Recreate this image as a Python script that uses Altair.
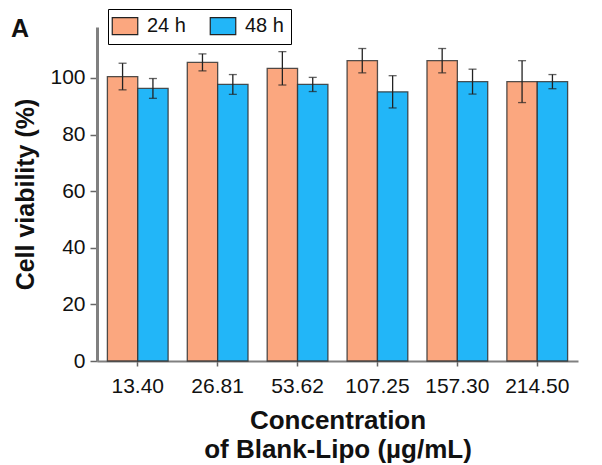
import altair as alt
import pandas as pd

concentrations = ["13.40", "26.81", "53.62", "107.25", "157.30", "214.50"]
times = ["24 h", "48 h"]
viab_24 = [100.5, 105.5, 103.4, 106.1, 106.1, 98.7]
err_24 = [4.7, 3.0, 5.9, 4.3, 4.3, 7.4]
viab_48 = [96.3, 97.7, 97.7, 95.1, 98.7, 98.7]
err_48 = [3.5, 3.5, 2.5, 5.7, 4.4, 2.5]

rows = []
for i, c in enumerate(concentrations):
    rows.append({"conc": c, "time": "24 h", "v": viab_24[i], "lo": viab_24[i] - err_24[i], "hi": viab_24[i] + err_24[i]})
    rows.append({"conc": c, "time": "48 h", "v": viab_48[i], "lo": viab_48[i] - err_48[i], "hi": viab_48[i] + err_48[i]})
df = pd.DataFrame(rows)

FONT = "Liberation Sans"
colors = ["#FBA77F", "#22B6F8"]

x = alt.X("conc:N", sort=concentrations,
          scale=alt.Scale(paddingInner=0.24, paddingOuter=0.13),
          axis=alt.Axis(title=["Concentration", "of Blank-Lipo (µg/mL)"], labelAngle=0,
                        labelFontSize=21, labelFont=FONT, labelColor="#111",
                        titleFontSize=26, titleFont=FONT, titleFontWeight="bold", titleColor="#111",
                        titlePadding=11, titleLineHeight=29, labelPadding=9,
                        domainColor="#808080", domainWidth=2, tickColor="#666", tickWidth=1.5,
                        tickSize=5, grid=False))
xo = alt.XOffset("time:N", sort=times)
y = alt.Y("v:Q", scale=alt.Scale(domain=[0, 118], nice=False),
          axis=alt.Axis(title="Cell viability (%)", values=list(range(0, 120, 10)),
                        labelExpr="datum.value % 20 === 0 ? datum.label : ''",
                        labelFontSize=21, labelFont=FONT, labelColor="#111", labelPadding=5,
                        titleFontSize=25, titleFont=FONT, titleFontWeight="bold", titleColor="#111",
                        titlePadding=11,
                        domainColor="#808080", domainWidth=3, tickColor="#666", tickWidth=1.5,
                        tickSize=7, grid=False))

bars = alt.Chart(df).mark_bar(stroke="#333", strokeWidth=1.3, strokeOpacity=0.85).encode(
    x=x, xOffset=xo, y=y,
    color=alt.Color("time:N", sort=times, scale=alt.Scale(domain=times, range=colors),
                    legend=alt.Legend(title=None, orient="none", legendX=11, legendY=-18,
                                      direction="horizontal", strokeColor="black", padding=7,
                                      symbolType="M-1.5,-1L1.5,-1L1.5,1L-1.5,1Z", symbolSize=289,
                                      symbolStrokeColor="#222", symbolStrokeWidth=1.2,
                                      labelFontSize=20, labelFont=FONT, labelColor="#111",
                                      columnPadding=21, labelOffset=12, fillColor="white"))
)

rules = alt.Chart(df).mark_rule(color="#222", strokeWidth=1.3).encode(
    x=alt.X("conc:N", sort=concentrations), xOffset=xo, y="lo:Q", y2="hi:Q"
)
caps_hi = alt.Chart(df).mark_tick(color="#222", size=8, thickness=1.3).encode(
    x=alt.X("conc:N", sort=concentrations), xOffset=xo, y="hi:Q"
)
caps_lo = alt.Chart(df).mark_tick(color="#222", size=8, thickness=1.3).encode(
    x=alt.X("conc:N", sort=concentrations), xOffset=xo, y="lo:Q"
)
label_a = alt.Chart(pd.DataFrame({"t": ["A"]})).mark_text(
    font=FONT, fontSize=25, fontWeight="bold", align="left", baseline="alphabetic", color="#111"
).encode(text="t:N", x=alt.value(-86), y=alt.value(10))

chart = alt.layer(bars, rules, caps_hi, caps_lo, label_a).properties(
    width=481, height=334,
    autosize=alt.AutoSizeParams(type="none"),
    padding={"left": 89, "top": 19, "right": 16, "bottom": 115},
).configure_view(stroke=None)

chart.save("out.html", embed_options={"renderer": "svg", "actions": False})
